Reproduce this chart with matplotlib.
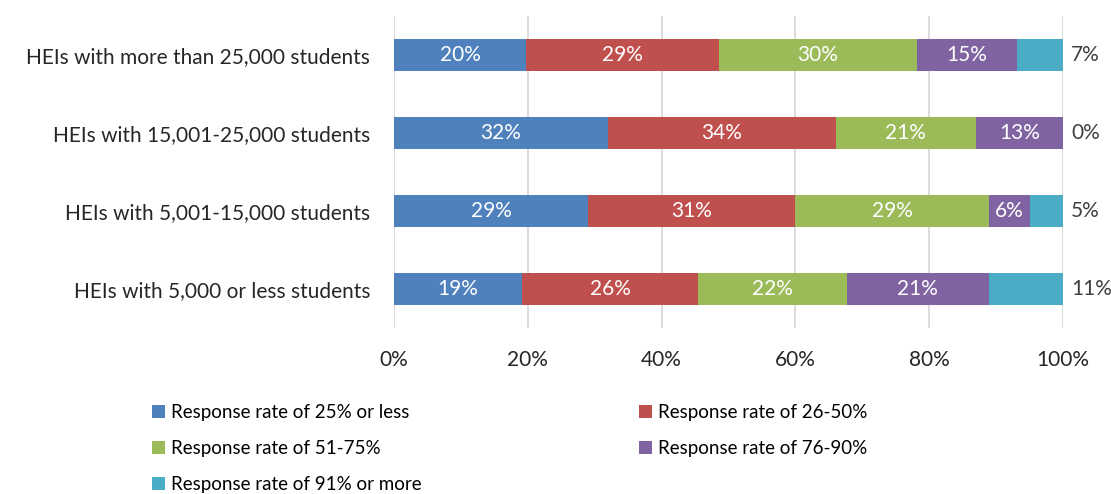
import matplotlib.pyplot as plt
import numpy as np

plt.rcParams["font.family"] = ["Lato", "DejaVu Sans"]

# institution size groups, top to bottom
groups = [
    "HEIs with more than 25,000 students",
    "HEIs with 15,001-25,000 students",
    "HEIs with 5,001-15,000 students",
    "HEIs with 5,000 or less students",
]
series = [
    "Response rate of 25% or less",
    "Response rate of 26-50%",
    "Response rate of 51-75%",
    "Response rate of 76-90%",
    "Response rate of 91% or more",
]
# percentage of HEIs per group, one list per response-rate band
rate_25_or_less = [20, 32, 29, 19]
rate_26_50 = [29, 34, 31, 26]
rate_51_75 = [30, 21, 29, 22]
rate_76_90 = [15, 13, 6, 21]
rate_91_or_more = [7, 0, 5, 11]
colors = ["#4F81BD", "#C0504D", "#9BBB59", "#8064A2", "#4BACC6"]

values = np.array([rate_25_or_less, rate_26_50, rate_51_75, rate_76_90,
                   rate_91_or_more], dtype=float)
shares = values / values.sum(axis=0) * 100  # 100% stacked

fig = plt.figure(figsize=(11.11, 4.94), dpi=100)
ax = fig.add_axes([0.3546, 0.336, 0.6022, 0.6316])

y = np.arange(len(groups))
left = np.zeros(len(groups))
for i, (name, color) in enumerate(zip(series, colors)):
    ax.barh(y, shares[i], left=left, height=0.41, color=color, label=name,
            zorder=2)
    for row in range(len(groups)):
        text = f"{values[i, row]:.0f}%"
        if i == len(series) - 1:
            ax.text(101.2, y[row], text, ha="left", va="center",
                    fontsize=15, color="#404040")
        else:
            ax.text(left[row] + shares[i, row] / 2, y[row], text,
                    ha="center", va="center", fontsize=15, color="white",
                    zorder=3)
    left += shares[i]

ax.set_xlim(0, 100)
ax.set_ylim(3.5, -0.5)
ax.set_xticks(np.arange(0, 101, 20))
ax.set_xticklabels([f"{t}%" for t in range(0, 101, 20)])
ax.set_yticks(y)
ax.set_yticklabels(groups)
ax.tick_params(axis="both", length=0, labelsize=15, colors="#262626")
ax.tick_params(axis="x", pad=16)
ax.tick_params(axis="y", pad=17)
ax.grid(axis="x", color="#D9D9D9", linewidth=1.3, zorder=0)
for spine in ax.spines.values():
    spine.set_visible(False)

# legend entries read row by row across two columns
handles, labels = ax.get_legend_handles_labels()
order = [0, 2, 4, 1, 3]
fig.legend([handles[k] for k in order], [labels[k] for k in order], ncol=2,
           loc="upper left", bbox_to_anchor=(0.13, 0.197), frameon=False,
           fontsize=13.5, handlelength=0.7, handleheight=0.7,
           handletextpad=0.3, columnspacing=11.6, labelspacing=1.02,
           borderaxespad=0)

fig.savefig("out.png", dpi=100)
